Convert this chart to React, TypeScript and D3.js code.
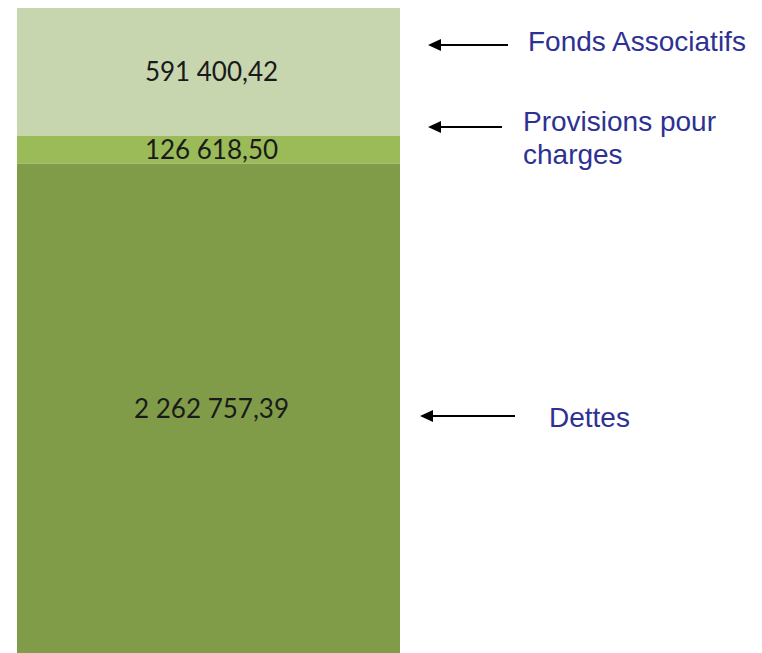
import React from "react";
import * as d3 from "d3";

const categories = ["Dettes", "Provisions pour charges", "Fonds Associatifs"];
const values = [2262757.39, 126618.5, 591400.42];
const labelLines = [["Dettes"], ["Provisions pour", "charges"], ["Fonds Associatifs"]];

const colors = ["#809c49", "#9bbb59", "#c7d6ae"];
// annotation layout (arrow y, arrow tip x, arrow tail x, text x, text baseline)
const annot = [
  { y: 416, x1: 420, x2: 515, tx: 549, ty: 427 },
  { y: 127, x1: 428, x2: 502, tx: 523, ty: 131 },
  { y: 45, x1: 428, x2: 508, tx: 528, ty: 51 },
];

const W = 762;
const H = 653;

const fr = d3.formatLocale({ decimal: ",", thousands: "\u00a0", grouping: [3], currency: ["", " €"] });
const fmt = fr.format(",.2f");

export default function App() {
  const stack = d3
    .stack<any>()
    .keys(categories)([Object.fromEntries(categories.map((c, i) => [c, values[i]]))]);
  const total = d3.sum(values);
  const y = d3.scaleLinear().domain([0, total]).range([H, 8]);
  const x = d3.scaleBand().domain(["Passif"]).range([17, 400]).padding(0);
  const bx = x("Passif") as number;
  const bw = x.bandwidth();

  return (
    <svg
      width={W}
      height={H}
      style={{ position: "absolute", left: 0, top: 0, display: "block", background: "#fff" }}
    >
      {stack.map((s, i) => {
        const d = s[0];
        const y0 = y(d[1]);
        const y1 = y(d[0]);
        return (
          <g key={categories[i]}>
            <rect x={bx} y={y0} width={bw} height={y1 - y0} fill={colors[i]} />
            <text
              x={bx + bw / 2 + 3}
              y={(y0 + y1) / 2}
              dy="0.36em"
              textAnchor="middle"
              fontFamily="Lato, 'Open Sans', sans-serif"
              fontSize={26}
              fill="#1a1a1a"
            >
              {fmt(values[i])}
            </text>
          </g>
        );
      })}
      {annot.map((a, i) => (
        <g key={"a" + i}>
          <line x1={a.x2} y1={a.y} x2={a.x1 + 12} y2={a.y} stroke="#000" strokeWidth={2} />
          <path d={`M${a.x1},${a.y} L${a.x1 + 13},${a.y - 6} L${a.x1 + 13},${a.y + 6} Z`} fill="#000" />
          <text
            x={a.tx}
            y={a.ty}
            fontFamily="'Liberation Sans', Arial, sans-serif"
            fontSize={28}
            fill="#2e3192"
          >
            {labelLines[i].map((l, j) => (
              <tspan key={j} x={a.tx} dy={j === 0 ? 0 : 33}>
                {l}
              </tspan>
            ))}
          </text>
        </g>
      ))}
    </svg>
  );
}
